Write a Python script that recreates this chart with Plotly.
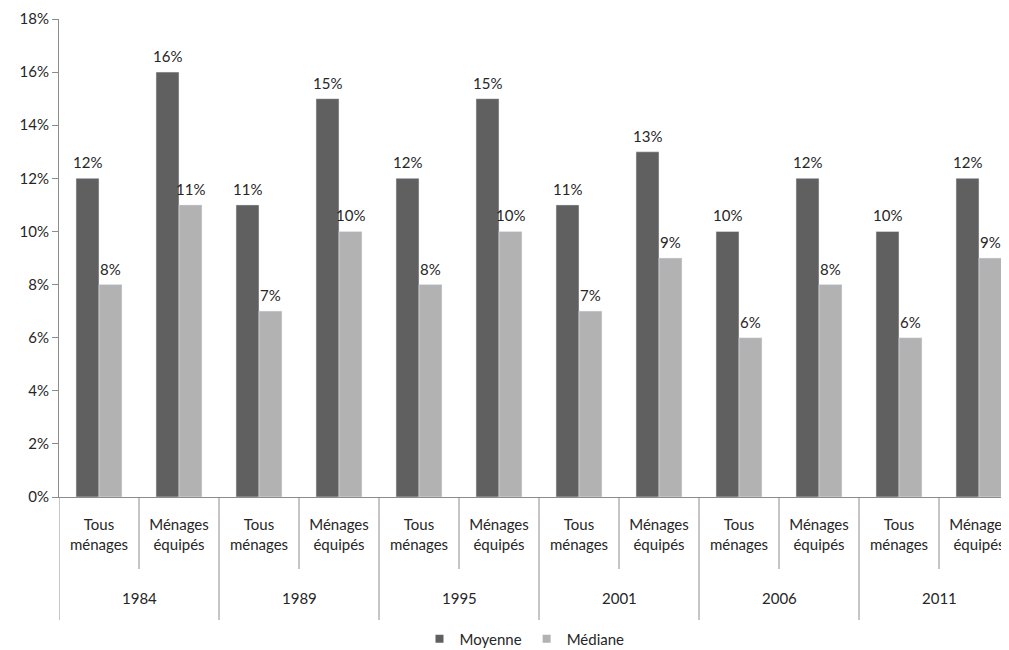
import plotly.graph_objects as go

years = ["1984", "1989", "1995", "2001", "2006", "2011"]
subcats = ["Tous<br>ménages", "Ménages<br>équipés"]
moyenne = [0.12, 0.16, 0.11, 0.15, 0.12, 0.15, 0.11, 0.13, 0.10, 0.12, 0.10, 0.12]
mediane = [0.08, 0.11, 0.07, 0.10, 0.08, 0.10, 0.07, 0.09, 0.06, 0.08, 0.06, 0.09]
y_ticks = [0, 0.02, 0.04, 0.06, 0.08, 0.10, 0.12, 0.14, 0.16, 0.18]

FONT = "Lato, 'Open Sans', sans-serif"
TXT = "#262626"
DARK = "#606060"
LIGHT = "#B2B2B2"
FS = 15
x = list(range(len(moyenne)))
ticktext = [subcats[i % 2] for i in x]

fig = go.Figure()
fig.add_trace(go.Bar(x=x, y=moyenne, name="Moyenne", marker_color=DARK,
                     showlegend=False))
fig.add_trace(go.Bar(x=x, y=mediane, name="Médiane", marker_color=LIGHT,
                     showlegend=False))
# legend entries with small square keys
for nm, col in (("Moyenne", DARK), ("Médiane", LIGHT)):
    fig.add_trace(go.Scatter(x=[None], y=[None], mode="markers", name=nm,
                             marker=dict(symbol="square", size=8, color=col)))

# plot area height in px: 642 - 11 - 153 = 478
H = 478.0
shapes = []
for i in range(len(x) + 1):
    xb = i - 0.5
    y1 = -(72 / H) if i % 2 == 1 else -(123 / H)
    shapes.append(dict(type="line", xref="x", yref="paper", x0=xb, x1=xb,
                       y0=0, y1=y1, line=dict(color="#8C8C8C", width=1)))

annotations = []
for g, yr in enumerate(years):
    annotations.append(dict(x=2 * g + 0.5, y=-(101 / H), xref="x", yref="paper",
                            text=yr, showarrow=False,
                            font=dict(size=FS, color=TXT, family=FONT),
                            yanchor="middle"))
# data labels above bars
for series, shift in ((moyenne, -11.5), (mediane, 11.5)):
    for xi, v in zip(x, series):
        annotations.append(dict(x=xi, y=v, xref="x", yref="y",
                                text=f"{v*100:.0f}%", showarrow=False,
                                xshift=shift, yshift=16, yanchor="middle",
                                font=dict(size=FS, color=TXT, family=FONT)))

fig.update_layout(
    width=1001, height=642,
    margin=dict(l=51, r=0, t=11, b=153, pad=0, autoexpand=False),
    paper_bgcolor="white", plot_bgcolor="white",
    barmode="group", bargap=0.425, bargroupgap=0,
    font=dict(family=FONT, size=FS, color=TXT),
    showlegend=True,
    legend=dict(orientation="h", x=0.49, xanchor="center", y=-(142 / H),
                yanchor="middle", font=dict(size=FS, color=TXT, family=FONT),
                itemwidth=30, traceorder="normal"),
    xaxis=dict(range=[-0.5, 11.375], tickmode="array", tickvals=x,
               ticktext=ticktext, showgrid=False, zeroline=False,
               showline=True, linecolor="#8C8C8C", linewidth=1,
               ticks="", ticklabelstandoff=14, automargin=False,
               tickfont=dict(size=FS, color=TXT, family=FONT)),
    yaxis=dict(range=[0, 0.18], tickvals=y_ticks, tickformat=".0%",
               showgrid=False, zeroline=False, showline=True,
               linecolor="#8C8C8C", linewidth=1, ticks="outside",
               ticklen=6, tickcolor="#8C8C8C", automargin=False,
               tickfont=dict(size=FS, color=TXT, family=FONT)),
    shapes=shapes, annotations=annotations,
)

fig.write_html("out.html")
